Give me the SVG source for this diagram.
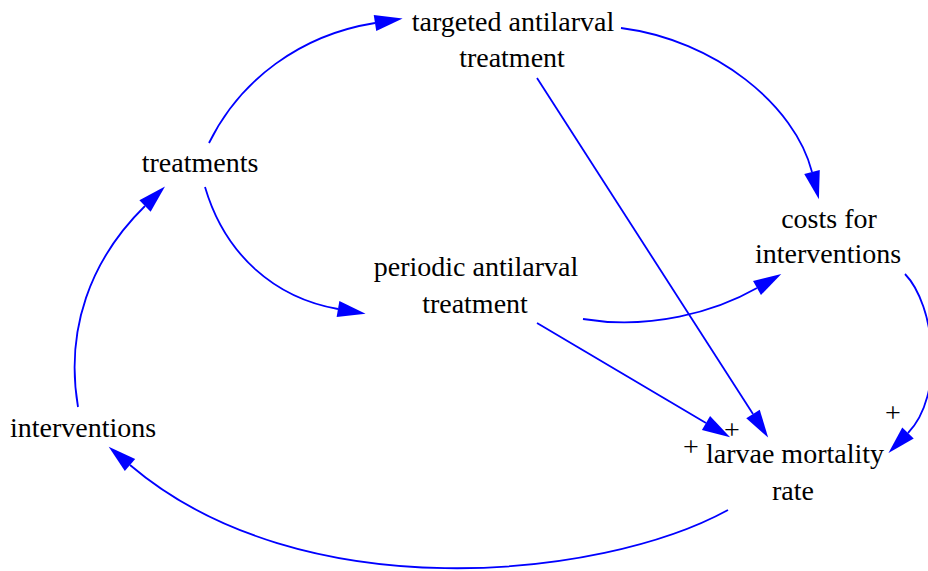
<svg xmlns="http://www.w3.org/2000/svg" width="928" height="571" viewBox="0 0 928 571" font-family="'Liberation Serif', 'Times New Roman', serif">
  <style>
    text { fill: #000000; text-anchor: middle; }
    .lbl { font-size: 28px; }
    .sign { font-size: 28px; }
    .edge { fill: none; stroke: #0000ff; stroke-width: 1.8; marker-end: url(#arrow); }
  </style>
  <defs>
    <marker id="arrow" markerUnits="userSpaceOnUse" markerWidth="30" markerHeight="18" refX="0" refY="8" orient="auto" overflow="visible">
      <path d="M0,0 L28,8 L0,16 z" fill="#0000ff"/>
    </marker>
  </defs>
  <rect width="928" height="571" fill="#ffffff"/>

  <!-- causal links -->
  <g id="connectors">
    <path class="edge" d="M209,143 C240,80 300,35 375,23"/>
    <path class="edge" d="M621,28 C715,40 795,105 812,172"/>
    <path class="edge" d="M537,78 L753,414"/>
    <path class="edge" d="M205,187 C225,255 275,298 338,309"/>
    <path class="edge" d="M583,319 C650,330 715,312 757,288"/>
    <path class="edge" d="M537,323 L706,423"/>
    <path class="edge" d="M905,274 C935,305 945,395 908,433"/>
    <path class="edge" d="M728,510 C600,580 300,610 130,465"/>
    <path class="edge" d="M78,407 C65,330 90,260 145,206"/>
  </g>

  <g id="targeted">
    <text class="lbl" x="513" y="31">targeted antilarval</text>
    <text class="lbl" x="512" y="67">treatment</text>
  </g>
  <g id="treatments">
    <text class="lbl" x="200" y="172">treatments</text>
  </g>
  <g id="costs">
    <text class="lbl" x="829" y="228">costs for</text>
    <text class="lbl" x="828" y="263">interventions</text>
  </g>
  <g id="periodic">
    <text class="lbl" x="476" y="276">periodic antilarval</text>
    <text class="lbl" x="475" y="313">treatment</text>
  </g>
  <g id="interventions">
    <text class="lbl" x="83" y="437">interventions</text>
  </g>
  <g id="larvae">
    <text class="lbl" x="795" y="463">larvae mortality</text>
    <text class="lbl" x="793" y="500">rate</text>
  </g>

  <!-- link polarity signs -->
  <g id="polarity">
    <text class="sign" x="732" y="439">+</text>
    <text class="sign" x="691" y="456">+</text>
    <text class="sign" x="893" y="422">+</text>
  </g>
</svg>
